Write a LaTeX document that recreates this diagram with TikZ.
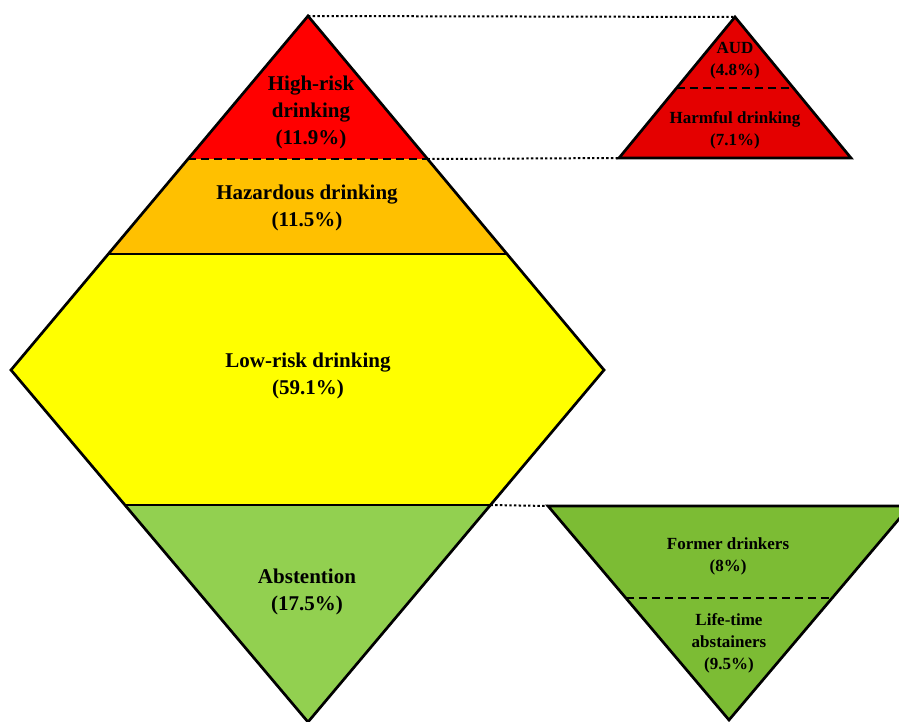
\documentclass[tikz,border=0pt]{standalone}
\usepackage{fontspec}
\setmainfont{Liberation Serif}
\usetikzlibrary{calc}
\definecolor{hrred}{RGB}{255,0,0}
\definecolor{audred}{RGB}{228,0,0}
\definecolor{hzorange}{RGB}{255,192,0}
\definecolor{lryellow}{RGB}{255,255,0}
\definecolor{abgreen}{RGB}{146,208,80}
\definecolor{exgreen}{RGB}{124,188,52}

\begin{document}
\begin{tikzpicture}
  [x=1pt,y=-1pt,
   edge/.style={line width=2.7pt,line join=miter},
   split/.style={line width=2pt,dash pattern=on 8pt off 5pt},
   link/.style={line width=2pt,dash pattern=on 2.4pt off 2.3pt},
   big/.style={align=center,font=\bfseries\fontsize{21}{27}\selectfont},
   small/.style={align=center,font=\bfseries\fontsize{17}{22}\selectfont}]
  \useasboundingbox (0,0) rectangle (899,722);
  \clip (0,0) rectangle (899,722);

  % main diamond
  \coordinate (t) at (308,16);
  \coordinate (l) at (11,370);
  \coordinate (r) at (604,370);
  \coordinate (b) at (308,722);
  \coordinate (hrl) at ($(t)!0.404!(l)$);
  \coordinate (hrr) at ($(t)!0.404!(r)$);
  \coordinate (hzl) at ($(t)!0.672!(l)$);
  \coordinate (hzr) at ($(t)!0.672!(r)$);
  \coordinate (abl) at ($(l)!0.3835!(b)$);
  \coordinate (abr) at ($(r)!0.3835!(b)$);

  \fill[hrred] (t) -- (hrr) -- (hrl) -- cycle;
  \fill[hzorange] (hrl) -- (hrr) -- (hzr) -- (hzl) -- cycle;
  \fill[lryellow] (hzl) -- (hzr) -- (r) -- (abr) -- (abl) -- (l) -- cycle;
  \fill[abgreen] (abl) -- (abr) -- (b) -- cycle;
  \draw[edge] (t) -- (r) -- (b) -- (l) -- cycle;
  \draw[edge] (hzl) -- (hzr);
  \draw[edge] (abl) -- (abr);
  \draw[split] (hrl) -- (hrr);

  % high-risk split
  \coordinate (ut) at (735,17);
  \coordinate (ul) at (619,158);
  \coordinate (ur) at (851,158);
  \fill[audred] (ut) -- (ur) -- (ul) -- cycle;
  \draw[edge] (ut) -- (ur) -- (ul) -- cycle;
  \draw[split] ($(ut)!0.504!(ul)$) -- ($(ut)!0.504!(ur)$);

  % abstention split
  \coordinate (dl) at (548,506);
  \coordinate (dr) at (910,506);
  \coordinate (db) at (729,720);
  \fill[exgreen] (dl) -- (dr) -- (db) -- cycle;
  \draw[edge] (dl) -- (dr) -- (db) -- cycle;
  \draw[split] ($(dl)!0.43!(db)$) -- ($(dr)!0.43!(db)$);

  \draw[link] (t) -- (ut);
  \draw[link] (hrr) -- (ul);
  \draw[link] (abr) -- (dl);

  \node (hr)[big] at (311,112) {High-risk\\drinking\\(11.9\%)};
  \node (hz)[big] at (307,208) {Hazardous drinking\\(11.5\%)};
  \node (lr)[big] at (308,376) {Low-risk drinking\\(59.1\%)};
  \node (ab)[big] at (307,592) {Abstention\\(17.5\%)};
  \node (aud)[small] at (735,61) {AUD\\(4.8\%)};
  \node (hd)[small] at (735,130) {Harmful drinking\\(7.1\%)};
  \node (fd)[small] at (728,556) {Former drinkers\\(8\%)};
  \node (la)[small] at (729,643) {Life-time\\abstainers\\(9.5\%)};
\end{tikzpicture}
\end{document}
